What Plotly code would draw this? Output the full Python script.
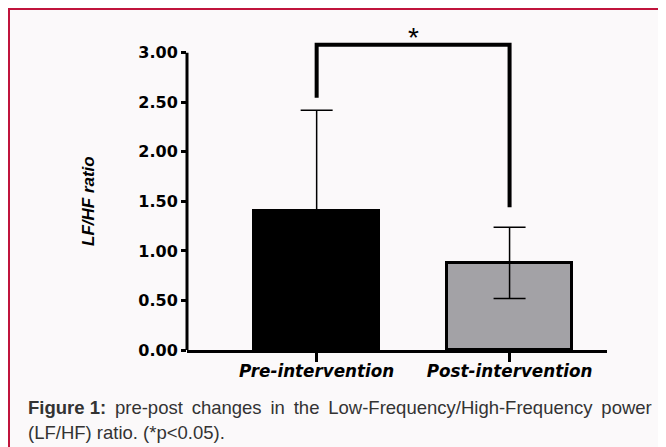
import plotly.graph_objects as go

# ---- data ----
categories = ["Pre-intervention", "Post-intervention"]
means = [1.40, 0.88]
sds = [1.02, 0.36]
y_ticks = [0.0, 0.5, 1.0, 1.5, 2.0, 2.5, 3.0]
y_title = "LF/HF ratio"
sig_label = "*"
caption_bold = "Figure 1:"
caption_line1 = "pre-post changes in the Low-Frequency/High-Frequency power"
caption_line2 = "(LF/HF) ratio. (*p<0.05)."

# ---- layout geometry ----
# the page body has an 8px margin, so the figure starts at (8, 8) on the page
OFF = 8
W, H = 666 - OFF, 447 - OFF
ML, MR, MT, MB = 179, 59, 15, 97
PW, PH = W - ML - MR, H - MT - MB

def px(x_page):
    return (x_page - OFF - ML) / PW

def py(y_page):
    return (H - MB - (y_page - OFF)) / PH

BG = "#fbf9fa"
RED = "#c0143c"

fig = go.Figure()
fig.add_trace(go.Bar(
    x=categories, y=means,
    width=0.645,
    marker=dict(color=["#000000", "#a3a2a6"], line=dict(color="#000000", width=3)),
    error_y=dict(type="data", array=sds, visible=True, color="#000000",
                 thickness=1.5, width=16),
    showlegend=False,
))

y_max_axis = max(y_ticks)
# significance bracket between the two bars
top_left = means[0] + sds[0]
top_right = means[1] + sds[1]
br_y = y_max_axis + 0.08
fig.add_shape(type="path", xref="x", yref="y",
              path=f"M 0,{top_left + 0.125} L 0,{br_y} L 1,{br_y} L 1,{top_right + 0.2}",
              line=dict(color="#000000", width=4))
fig.add_annotation(x=0.5, xref="x", y=br_y, yref="y", text=sig_label,
                   showarrow=False, yanchor="bottom", yshift=-10,
                   font=dict(family="Liberation Sans", size=28, color="#000000"))

# y axis line only from 0 to top tick
fig.add_shape(type="line", xref="paper", yref="y", x0=0, x1=0, y0=0, y1=y_max_axis,
              line=dict(color="#000000", width=3))

# red frame (left and top)
fig.add_shape(type="path", xref="paper", yref="paper",
              path=f"M {px(9)},{py(460)} L {px(9)},{py(9)} L {px(680)},{py(9)}",
              line=dict(color=RED, width=2))

# caption
cap_font = dict(family="Liberation Sans", size=18.5, color="#333333")
ts = "\u2009"
line1 = caption_line1.replace(" ", " " + ts)
fig.add_annotation(xref="paper", yref="paper", x=px(26), y=py(407),
                   xanchor="left", yanchor="middle", showarrow=False,
                   text=f"<b>{caption_bold}</b> {ts}{line1}", font=cap_font)
fig.add_annotation(xref="paper", yref="paper", x=px(26), y=py(432),
                   xanchor="left", yanchor="middle", showarrow=False,
                   text=caption_line2, font=cap_font)

# y-axis title
fig.add_annotation(xref="paper", yref="paper", x=px(88), y=py(201),
                   xanchor="center", yanchor="middle", showarrow=False, textangle=-90,
                   text=f"<b><i>{y_title}</i></b>",
                   font=dict(family="Liberation Sans", size=17, color="#000000"))

fig.update_layout(
    width=W, height=H,
    margin=dict(l=ML, r=MR, t=MT, b=MB, pad=0),
    paper_bgcolor=BG, plot_bgcolor=BG,
    bargap=0,
    xaxis=dict(
        type="category", range=[-0.672, 1.505],
        showline=True, linecolor="#000000", linewidth=3,
        ticks="outside", ticklen=9, tickwidth=3, tickcolor="#000000",
        ticklabelstandoff=-5,
        showgrid=False, zeroline=False,
        tickfont=dict(family="DejaVu Sans", size=16.8, color="#000000", weight="bold", style="italic"),
    ),
    yaxis=dict(
        range=[0, 3.3], tickvals=y_ticks, tickformat=".2f",
        showline=False, ticks="outside", ticklen=5, tickwidth=3, tickcolor="#000000",
        showgrid=False, zeroline=False,
        tickfont=dict(family="DejaVu Sans", size=16, color="#000000", weight="bold"),
    ),
)

fig.write_html("out.html")
